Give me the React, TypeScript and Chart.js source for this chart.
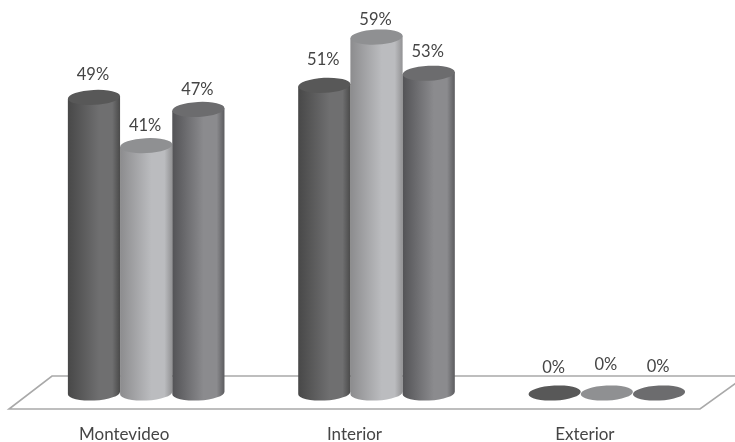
import React, { useEffect, useRef } from "react";
import { Chart, BarController, BarElement, CategoryScale, LinearScale } from "chart.js";

const categories = ["Montevideo", "Interior", "Exterior"];
const seriesA = [49, 51, 0];
const seriesB = [41, 59, 0];
const seriesC = [47, 53, 0];

const SHADES = [
  { edge0: "#484848", mid: "#6f6f70", edge1: "#4a4a4a", top: "#585858" },
  { edge0: "#8c8c8e", mid: "#bbbcbf", edge1: "#929294", top: "#8f9092" },
  { edge0: "#535356", mid: "#8b8b8e", edge1: "#5c5c5f", top: "#6c6c6e" },
];
const LABEL_LIFT = [
  [23, 26, 25],
  [20, 17, 28],
  [20, 22, 26],
];
const RY = 7.5;
const TILT = -0.05;

class CylinderElement extends BarElement {
  static id = "cylinder";
  draw(ctx: CanvasRenderingContext2D) {
    const { x, y, base, width } = (this as any).getProps(["x", "y", "base", "width"]);
    const s = (this as any).shade;
    const rx = width / 2;
    const l = x - rx;
    const dy = rx * Math.sin(TILT);
    ctx.save();
    if (base - y > 0.5) {
      const g = ctx.createLinearGradient(l, 0, l + width, 0);
      g.addColorStop(0, s.edge0);
      g.addColorStop(0.6, s.mid);
      g.addColorStop(0.85, s.mid);
      g.addColorStop(1, s.edge1);
      ctx.fillStyle = g;
      ctx.beginPath();
      ctx.moveTo(l, y - dy);
      ctx.lineTo(l + width, y + dy);
      ctx.lineTo(l + width, base + dy);
      ctx.ellipse(x, base, rx, RY, TILT, 0, Math.PI);
      ctx.closePath();
      ctx.fill();
    }
    ctx.fillStyle = s.top;
    ctx.beginPath();
    ctx.ellipse(x, y, rx, RY, TILT, 0, Math.PI * 2);
    ctx.fill();
    ctx.restore();
  }
}
(CylinderElement as any).defaults = { ...(BarElement as any).defaults };
(CylinderElement as any).defaultRoutes = (BarElement as any).defaultRoutes;

class CylinderController extends BarController {
  static id = "cylinder";
  static defaults = { ...(BarController as any).defaults, dataElementType: "cylinder" };
  static overrides = (BarController as any).overrides;
  draw() {
    const self = this as any;
    self.getMeta().data.forEach((el: any) => {
      el.shade = SHADES[self.index];
    });
    super.draw();
  }
}

const floorPlugin = {
  id: "floor",
  beforeDatasetsDraw(chart: any) {
    const { ctx, scales } = chart;
    const b = scales.y.getPixelForValue(0);
    ctx.save();
    ctx.strokeStyle = "#a9a9a9";
    ctx.lineWidth = 1.6;
    ctx.beginPath();
    ctx.moveTo(736, b - 17);
    ctx.lineTo(52, b - 17);
    ctx.lineTo(9, b + 16);
    ctx.lineTo(700, b + 16);
    ctx.lineTo(736, b - 10);
    ctx.stroke();
    ctx.restore();
    // The middle (light) series sits behind its neighbours.
    chart.getDatasetMeta(1).controller.draw();
  },
  beforeDatasetDraw(_chart: any, args: any) {
    if (args.index === 1) return false;
  },
};

const labelPlugin = {
  id: "valueLabels",
  afterDatasetsDraw(chart: any) {
    const { ctx } = chart;
    ctx.save();
    ctx.font = "16.5px Lato";
    ctx.fillStyle = "#454545";
    ctx.textAlign = "center";
    ctx.textBaseline = "middle";
    chart.data.datasets.forEach((ds: any, i: number) => {
      chart.getDatasetMeta(i).data.forEach((el: any, j: number) => {
        ctx.fillText(ds.data[j] + "%", el.x - 1, el.y - LABEL_LIFT[i][j]);
      });
    });
    ctx.restore();
  },
};

Chart.register(CylinderController, CylinderElement as any, CategoryScale, LinearScale);

export default function App() {
  const ref = useRef<HTMLCanvasElement>(null);
  useEffect(() => {
    document.body.style.margin = "0";
    const chart = new Chart(ref.current!, {
      type: "cylinder" as any,
      data: {
        labels: categories,
        datasets: [
          { label: "A", data: seriesA, clip: false },
          { label: "B", data: seriesB, clip: false },
          { label: "C", data: seriesC, clip: false },
        ],
      },
      options: {
        animation: false,
        responsive: false,
        categoryPercentage: 0.68,
        barPercentage: 1,
        layout: { padding: { left: 31, right: 13, top: 31, bottom: -25.4 } },
        plugins: { legend: { display: false }, tooltip: { enabled: false } },
        scales: {
          x: {
            grid: { display: false },
            border: { display: false },
            ticks: { color: "#454545", font: { family: "Lato", size: 17 }, padding: 23, maxRotation: 0, labelOffset: -22 },
          },
          y: { display: false, min: 0, max: 60 },
        },
      } as any,
      plugins: [floorPlugin, labelPlugin],
    });
    return () => chart.destroy();
  }, []);
  return (
    <canvas
      ref={ref}
      width={735}
      height={442}
      style={{ display: "block", width: 735, height: 442, filter: "blur(0.4px)" }}
    />
  );
}
